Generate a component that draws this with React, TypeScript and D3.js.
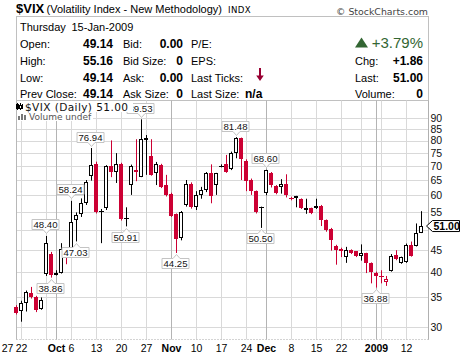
import React from "react";
import * as d3 from "d3";

const dates = [
  "2008-09-19","2008-09-22","2008-09-23","2008-09-24","2008-09-25","2008-09-26","2008-09-29","2008-09-30",
  "2008-10-01","2008-10-02","2008-10-03","2008-10-06","2008-10-07","2008-10-08","2008-10-09","2008-10-10","2008-10-13","2008-10-14","2008-10-15","2008-10-16","2008-10-17","2008-10-20","2008-10-21","2008-10-22","2008-10-23","2008-10-24","2008-10-27","2008-10-28","2008-10-29","2008-10-30","2008-10-31",
  "2008-11-03","2008-11-04","2008-11-05","2008-11-06","2008-11-07","2008-11-10","2008-11-11","2008-11-12","2008-11-13","2008-11-14","2008-11-17","2008-11-18","2008-11-19","2008-11-20","2008-11-21","2008-11-24","2008-11-25","2008-11-26","2008-11-28",
  "2008-12-01","2008-12-02","2008-12-03","2008-12-04","2008-12-05","2008-12-08","2008-12-09","2008-12-10","2008-12-11","2008-12-12","2008-12-15","2008-12-16","2008-12-17","2008-12-18","2008-12-19","2008-12-22","2008-12-23","2008-12-24","2008-12-26","2008-12-29","2008-12-30","2008-12-31",
  "2009-01-02","2009-01-05","2009-01-06","2009-01-07","2009-01-08","2009-01-09","2009-01-12","2009-01-13","2009-01-14","2009-01-15",
];

const opens = [
  33.3, 32.6, 34.0, 35.9, 35.1, 32.9, 39.6, 44.0,
  39.5, 39.9, 44.0, 44.9, 52.6, 54.2, 57.5, 66.4, 70.6, 55.4, 56.1, 70.0, 67.8, 70.9, 53.3, 63.3, 68.4, 66.2, 80.2, 73.9, 67.4, 70.3, 63.3,
  60.3, 54.2, 47.8, 57.0, 63.8, 56.3, 60.2, 61.6, 67.3, 63.3, 70.3, 70.6, 69.0, 74.9, 81.0, 72.0, 65.0, 61.3, 56.4,
  60.6, 67.4, 63.0, 62.5, 63.8, 59.1, 59.7, 58.9, 55.5, 56.0, 56.0, 56.8, 52.6, 50.3, 46.0, 45.2, 43.3, 45.0, 44.6, 43.5, 44.2, 42.0,
  39.9, 39.2, 38.0, 40.2, 43.7, 41.9, 42.2, 46.2, 46.0, 49.14,
];
const highs = [
  33.6, 34.4, 36.3, 37.0, 35.3, 35.0, 48.4, 44.5,
  40.4, 46.6, 44.3, 58.24, 54.8, 59.0, 65.0, 76.94, 71.6, 55.8, 70.3, 80.1, 74.9, 71.2, 56.3, 70.5, 80.6, 89.53, 82.4, 80.6, 71.5, 70.8, 66.8,
  60.8, 54.5, 55.2, 65.0, 64.2, 61.3, 62.7, 67.8, 70.6, 67.5, 70.6, 74.2, 75.5, 81.48, 81.3, 72.5, 65.5, 61.5, 56.5,
  68.6, 67.8, 63.3, 65.3, 67.0, 59.5, 59.8, 59.0, 58.9, 56.2, 58.9, 57.0, 52.8, 50.5, 46.2, 45.5, 45.7, 45.1, 44.7, 46.3, 44.3, 42.1,
  40.1, 40.4, 39.2, 44.0, 44.9, 43.4, 46.5, 47.0, 51.7, 55.16,
];
const lows = [
  32.0, 30.8, 32.5, 34.8, 32.4, 32.8, 39.2, 38.86,
  39.3, 39.7, 41.7, 44.6, 47.03, 53.5, 57.0, 64.8, 54.5, 46.6, 55.5, 66.0, 64.0, 52.5, 50.91, 60.1, 64.6, 66.0, 66.8, 66.5, 63.3, 62.3, 59.6,
  53.5, 44.25, 47.3, 56.5, 55.9, 55.5, 58.9, 61.0, 57.5, 60.1, 69.5, 67.5, 68.5, 72.9, 65.0, 61.3, 60.1, 54.5, 50.5,
  60.0, 62.5, 60.3, 60.5, 59.3, 58.4, 56.3, 55.8, 54.4, 54.3, 55.8, 51.0, 49.5, 44.8, 41.6, 43.3, 42.0, 44.0, 43.3, 42.5, 39.8, 37.7,
  36.88, 37.7, 37.2, 40.1, 42.6, 41.8, 42.0, 43.4, 45.8, 49.14,
];
const closes = [
  32.2, 34.0, 36.1, 35.0, 32.8, 34.6, 46.7, 39.4,
  39.9, 45.3, 43.8, 52.2, 54.1, 57.6, 64.4, 70.3, 54.9, 55.2, 70.0, 67.8, 70.6, 53.0, 53.1, 70.0, 67.8, 80.6, 81.0, 66.9, 70.6, 62.8, 60.0,
  53.8, 47.6, 54.8, 63.8, 56.3, 60.2, 61.6, 67.3, 59.6, 67.3, 69.8, 67.8, 75.0, 81.3, 72.67, 64.7, 61.3, 55.0, 56.2,
  68.5, 63.3, 60.7, 63.6, 60.0, 58.9, 59.1, 56.0, 56.2, 54.6, 56.8, 52.6, 50.0, 47.3, 44.9, 44.6, 45.0, 44.3, 43.5, 44.2, 42.0, 40.0,
  39.2, 39.08, 38.5, 43.5, 42.8, 43.27, 46.1, 43.6, 49.14, 51.0,
];

const yTicks = [30, 35, 40, 45, 50, 55, 60, 65, 70, 75, 80, 85, 90];
const xLabelDates = [
  "2008-09-22","2008-10-01","2008-10-06","2008-10-13","2008-10-20","2008-10-27",
  "2008-11-03","2008-11-10","2008-11-17","2008-11-24","2008-12-01","2008-12-08",
  "2008-12-15","2008-12-22","2009-01-02","2009-01-12",
];
const monthNames = ["Jan","Feb","Mar","Apr","May","Jun","Jul","Aug","Sep","Oct","Nov","Dec"];

const peakDates = ["2008-09-29","2008-10-06","2008-10-10","2008-10-24","2008-11-20","2008-12-01"];
const peakValues = [48.4, 58.24, 76.94, 89.53, 81.48, 68.6];
const troughDates = ["2008-09-30","2008-10-07","2008-10-21","2008-11-04","2008-11-28","2009-01-02"];
const troughValues = [38.86, 47.03, 50.91, 44.25, 50.5, 36.88];

const lastValue = 51.0;

const RED = "#cc0033";
const ARIAL = "'Liberation Sans', Arial, sans-serif";
const VERD = "'DejaVu Sans', Verdana, sans-serif";

const parse = (s: string) => new Date(s + "T12:00:00");

export default function App() {
  const x = d3.scalePoint<string>().domain(dates).range([16.5, 421.5]);
  const y = d3.scaleLog().domain([30, 90]).range([326.7, 118.3]);
  const col = (d: string) => Math.round((x(d) as number) - 0.5);
  const py = (v: number) => Math.round(y(v)) + 0.5;

  const plotL = 16.5, plotR = 428.5, plotT = 100.5, plotB = 339.5;

  const vGrid: { c: number; month: boolean }[] = [];
  dates.forEach((d, i) => {
    const dt = parse(d);
    const month = i > 0 && parse(dates[i - 1]).getMonth() !== dt.getMonth();
    if (month || dt.getDay() === 1) vGrid.push({ c: col(d), month });
  });

  const labelText = (d: string) => {
    const dt = parse(d);
    const i = dates.indexOf(d);
    const month = i > 0 && parse(dates[i - 1]).getMonth() !== dt.getMonth();
    if (month) {
      if (dt.getMonth() === 0) return { t: String(dt.getFullYear()), bold: true };
      return { t: monthNames[dt.getMonth()], bold: true };
    }
    return { t: String(dt.getDate()), bold: false };
  };

  const candles = dates.map((d, i) => {
    const o = opens[i], h = highs[i], l = lows[i], c = closes[i];
    const color = i === 0 || c < closes[i - 1] ? RED : "#000";
    const cx = col(d);
    const yTop = y(Math.max(o, c));
    const yBot = y(Math.min(o, c));
    const filled = c < o;
    const wx = cx + 0.5;
    const els: React.ReactNode[] = [];
    const bodyH = yBot - yTop;
    if (bodyH < 1.5) {
      const yy = Math.round((yTop + yBot) / 2) + 0.5;
      els.push(<line key="w" x1={wx} x2={wx} y1={y(h)} y2={y(l)} stroke={color} strokeWidth={1} />);
      els.push(<line key="b" x1={cx - 2} x2={cx + 3} y1={yy} y2={yy} stroke={color} strokeWidth={1} />);
    } else if (filled) {
      els.push(<line key="w" x1={wx} x2={wx} y1={y(h)} y2={y(l)} stroke={color} strokeWidth={1} />);
      els.push(<rect key="b" x={cx - 2} y={Math.round(yTop)} width={4} height={Math.max(1, Math.round(yBot) - Math.round(yTop))} fill={color} />);
    } else {
      const t = Math.round(yTop) + 0.5;
      const b = Math.round(yBot) - 0.5;
      els.push(<line key="w1" x1={wx} x2={wx} y1={y(h)} y2={t} stroke={color} strokeWidth={1} />);
      els.push(<line key="w2" x1={wx} x2={wx} y1={b} y2={y(l)} stroke={color} strokeWidth={1} />);
      els.push(<rect key="b" x={cx - 1.5} y={t} width={3} height={Math.max(1, b - t)} fill="#fff" stroke={color} strokeWidth={1} />);
    }
    return <g key={d}>{els}</g>;
  });

  const bw = 27, bh = 10;
  const labelBox = (d: string, v: number, above: boolean, key: string) => {
    const cx = col(d);
    const bx = cx - bw / 2 - 0.5;
    const vy = y(v);
    let path: string, by: number;
    if (above) {
      by = Math.round(vy - 6.5 - bh) + 0.5;
      const bb = by + bh;
      path = `M${bx},${by}H${bx + bw}V${bb}H${cx + 4}L${cx + 0.5},${bb + 4}L${cx - 3},${bb}H${bx}Z`;
    } else {
      by = Math.round(vy + 5.5) + 0.5;
      path = `M${bx},${by}H${cx - 3}L${cx + 0.5},${by - 4}L${cx + 4},${by}H${bx + bw}V${by + bh}H${bx}Z`;
    }
    return (
      <g key={key}>
        <path d={path} fill="#fff" stroke="#c4c4c4" strokeWidth={1} />
        <text x={bx + bw / 2} y={by + 8.3} textAnchor="middle" fontFamily={ARIAL} fontSize={9.6} fill="#111">
          {v.toFixed(2)}
        </text>
      </g>
    );
  };

  const lastY = y(lastValue);
  const hdrRows = [31, 48, 65, 81.5, 98.3];

  return (
    <svg width={460} height={357} style={{ position: "fixed", left: 0, top: 0, background: "#fff" }}>
      <rect x={0} y={0} width={460} height={357} fill="#fff" />
      <text x={16} y={12.5} fontFamily={ARIAL} fontSize={13} fontWeight="bold" fill="#000">$VIX</text>
      <text x={46.5} y={12.5} fontFamily={ARIAL} fontSize={11} fill="#000">(Volatility Index - New Methodology)</text>
      <text x={228} y={12.5} fontFamily={VERD} fontSize={8.6} fill="#000" letterSpacing={0.4}>INDX</text>
      <text x={428} y={14.5} textAnchor="end" fontFamily={VERD} fontSize={9.4} fill="#444">© StockCharts.com</text>

      <rect x={16.5} y={16.5} width={412} height={84} fill="#fff" stroke="#c0c0c0" strokeWidth={1} />
      <text x={20} y={hdrRows[0]} fontFamily={ARIAL} fontSize={11}>Thursday</text>
      <text x={71.5} y={hdrRows[0]} fontFamily={ARIAL} fontSize={11}>15-Jan-2009</text>
      {["Open:", "High:", "Low:", "Prev Close:"].map((t, k) => (
        <text key={t} x={20} y={hdrRows[k + 1]} fontFamily={ARIAL} fontSize={11}>{t}</text>
      ))}
      {["49.14", "55.16", "49.14", "49.14"].map((t, k) => (
        <text key={"v" + k} x={113} y={hdrRows[k + 1]} textAnchor="end" fontFamily={ARIAL} fontSize={12} fontWeight="bold">{t}</text>
      ))}
      {["Bid:", "Bid Size:", "Ask:", "Ask Size:"].map((t, k) => (
        <text key={t} x={123} y={hdrRows[k + 1]} fontFamily={ARIAL} fontSize={11}>{t}</text>
      ))}
      {["0.00", "0", "0.00", "0"].map((t, k) => (
        <text key={"b" + k} x={183} y={hdrRows[k + 1]} textAnchor="end" fontFamily={ARIAL} fontSize={12} fontWeight="bold">{t}</text>
      ))}
      {["P/E:", "EPS:", "Last Ticks:", "Last Size:"].map((t, k) => (
        <text key={t} x={191} y={hdrRows[k + 1]} fontFamily={ARIAL} fontSize={11}>{t}</text>
      ))}
      <path d="M259,68H261V75.5H263.8L260,81L256.2,75.5H259Z" fill="#990033" />
      <text x={245} y={hdrRows[4]} fontFamily={ARIAL} fontSize={12} fontWeight="bold">n/a</text>
      <path d="M355,47.5L368,47.5L361.5,37.5Z" fill="#336633" />
      <text x={423} y={hdrRows[1]} textAnchor="end" fontFamily={ARIAL} fontSize={15} fill="#336633">+3.79%</text>
      {["Chg:", "Last:", "Volume:"].map((t, k) => (
        <text key={t} x={355} y={hdrRows[k + 2]} fontFamily={ARIAL} fontSize={11}>{t}</text>
      ))}
      {["+1.86", "51.00", "0"].map((t, k) => (
        <text key={"r" + k} x={423} y={hdrRows[k + 2]} textAnchor="end" fontFamily={ARIAL} fontSize={12} fontWeight="bold">{t}</text>
      ))}

      {yTicks.map((t) => (
        <line key={"hy" + t} x1={plotL} x2={plotR} y1={py(t)} y2={py(t)} stroke="#d9d9d9" strokeWidth={1} />
      ))}
      {vGrid.map((g) => (
        <line key={"vx" + g.c} x1={g.c + 0.5} x2={g.c + 0.5} y1={plotT} y2={plotB} stroke={g.month ? "#b4b4b4" : "#d9d9d9"} strokeWidth={1} />
      ))}
      <line x1={plotL} x2={plotL} y1={plotT} y2={plotB} stroke="#b8b8b8" />
      <line x1={plotR} x2={plotR} y1={plotT} y2={plotB} stroke="#b0b0b0" />
      <line x1={plotL} x2={plotR} y1={plotB} y2={plotB} stroke="#a8a8a8" strokeDasharray="1,2" />

      {candles}

      {peakDates.map((d, k) => labelBox(d, peakValues[k], true, "p" + k))}
      {troughDates.map((d, k) => labelBox(d, troughValues[k], false, "t" + k))}

      <rect x={17} y={101} width={116} height={11} fill="#fff" />
      <rect x={17} y={112} width={76} height={9} fill="#fff" />
      <g stroke="#000" strokeWidth={1}>
        <line x1={17.5} x2={17.5} y1={103} y2={110} />
        <rect x={16.5} y={104.5} width={2} height={4} fill="#000" />
        <line x1={20.5} x2={20.5} y1={103} y2={110} />
        <rect x={19.5} y={105.5} width={2} height={3} fill="#fff" />
        <line x1={22.5} x2={22.5} y1={104} y2={109} />
      </g>
      <text x={25} y={110.8} fontFamily={VERD} fontSize={10.6} fill="#111" textLength={103} lengthAdjust="spacing">$VIX (Daily) 51.00</text>
      <g fill="#777">
        <rect x={18} y={116} width={2} height={4} />
        <rect x={21} y={114} width={2} height={6} />
        <rect x={24} y={115} width={2} height={5} />
      </g>
      <text x={29} y={119.5} fontFamily={VERD} fontSize={9} fill="#555">Volume undef</text>

      {yTicks.filter((t) => t !== 50).map((t) => (
        <text key={"yl" + t} x={430.5} y={y(t) + 3.8} fontFamily={ARIAL} fontSize={10.5} fill="#111">{t}</text>
      ))}
      <path d={`M426.5,${lastY}L432.5,${lastY - 5.5}H459.5V${lastY + 5.5}H432.5Z`} fill="#fff" stroke="#000" strokeWidth={1} />
      <text x={433.5} y={lastY + 4} fontFamily={ARIAL} fontSize={10.5} fontWeight="bold">{lastValue.toFixed(2)}</text>

      <text x={7.5} y={351.5} textAnchor="middle" fontFamily={ARIAL} fontSize={10.5}>27</text>
      {xLabelDates.map((d) => {
        const lt = labelText(d);
        return (
          <text key={"xl" + d} x={col(d) + 0.5} y={351.5} textAnchor="middle" fontFamily={ARIAL}
            fontSize={10.5} fontWeight={lt.bold ? "bold" : "normal"}>{lt.t}</text>
        );
      })}
    </svg>
  );
}
